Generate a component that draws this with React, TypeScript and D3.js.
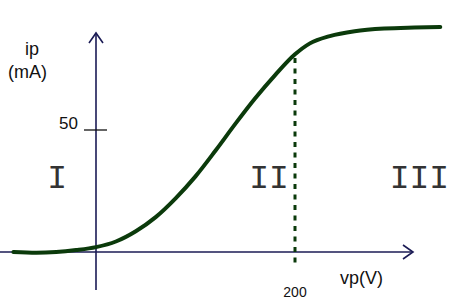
import { useEffect } from "react"
import * as d3 from "d3"

// plate voltage (V) and plate current (mA)
const vp = [-83, -60, -40, -20, 0, 20, 40, 60, 80, 100, 120, 140, 160, 180, 200, 215, 235, 260, 290, 320, 346]
const ip = [0, -0.3, 0, 0.8, 2, 4.3, 8.5, 14.3, 22, 31, 41.5, 52.5, 63, 72.5, 81, 85.5, 88.5, 90.5, 91.6, 92, 92.2]

const yTicks = [50]
const xTicks = [200]
const regions = [
  { label: "I", v: -39 },
  { label: "II", v: 174 },
  { label: "III", v: 325 },
]

const W = 473
const H = 300
const axisColor = "#1b1b55"
const curveColor = "#0b3a0b"

const App = () => {
  useEffect(() => {
    document.body.style.margin = "0"
  }, [])

  const x = d3.scaleLinear().domain([0, 200]).range([96, 295])
  const y = d3.scaleLinear().domain([0, 50]).range([252, 130])

  const x0 = x(0)
  const y0 = y(0)
  const xEnd = 413
  const yTop = 33

  const pts: [number, number][] = vp.map((v, i) => [x(v), y(ip[i])])
  const line = d3.line().curve(d3.curveMonotoneX)(pts) || ""

  const sans = "'Liberation Sans', Arial, sans-serif"

  return (
    <svg width={W} height={H} style={{ display: "block" }}>
      {/* axes */}
      <line x1={0} y1={y0} x2={xEnd} y2={y0} stroke={axisColor} strokeWidth={1.6} />
      <polyline
        points={`${xEnd - 10},${y0 - 7} ${xEnd},${y0} ${xEnd - 10},${y0 + 7}`}
        fill="none"
        stroke={axisColor}
        strokeWidth={1.6}
      />
      <line x1={x0} y1={290} x2={x0} y2={yTop} stroke={axisColor} strokeWidth={1.6} />
      <polyline
        points={`${x0 - 7},${yTop + 10} ${x0},${yTop} ${x0 + 7},${yTop + 10}`}
        fill="none"
        stroke={axisColor}
        strokeWidth={1.6}
      />

      {yTicks.map((t) => (
        <g key={t}>
          <line x1={x0 - 12} x2={x0 + 11} y1={y(t)} y2={y(t)} stroke="#111" strokeWidth={1.3} />
          <text x={x0 - 18} y={y(t) - 1} textAnchor="end" fontFamily={sans} fontSize={17} fill="#111">
            {t}
          </text>
        </g>
      ))}

      {/* curve */}
      <path d={line} fill="none" stroke={curveColor} strokeWidth={4} strokeLinecap="round" />

      {xTicks.map((t) => (
        <g key={t}>
          <line
            x1={x(t)}
            x2={x(t)}
            y1={y(79.5)}
            y2={268}
            stroke={curveColor}
            strokeWidth={3}
            strokeDasharray="5 5.5"
          />
          <text x={x(t)} y={297} textAnchor="middle" fontFamily={sans} fontSize={14} fill="#111">
            {t}
          </text>
        </g>
      ))}

      {/* labels */}
      <text x={25} y={55} fontFamily={sans} fontSize={18} fill="#111">ip</text>
      <text x={8} y={78} fontFamily={sans} fontSize={18} fill="#111">(mA)</text>
      <text x={340} y={284} fontFamily={sans} fontSize={18} fill="#111">vp(V)</text>

      {regions.map((r) => (
        <text
          key={r.label}
          x={x(r.v)}
          y={188}
          textAnchor="middle"
          fontFamily="'Liberation Mono', 'Courier New', monospace"
          fontSize={33}
          fill="#333"
        >
          {r.label}
        </text>
      ))}
    </svg>
  )
}

export default App
